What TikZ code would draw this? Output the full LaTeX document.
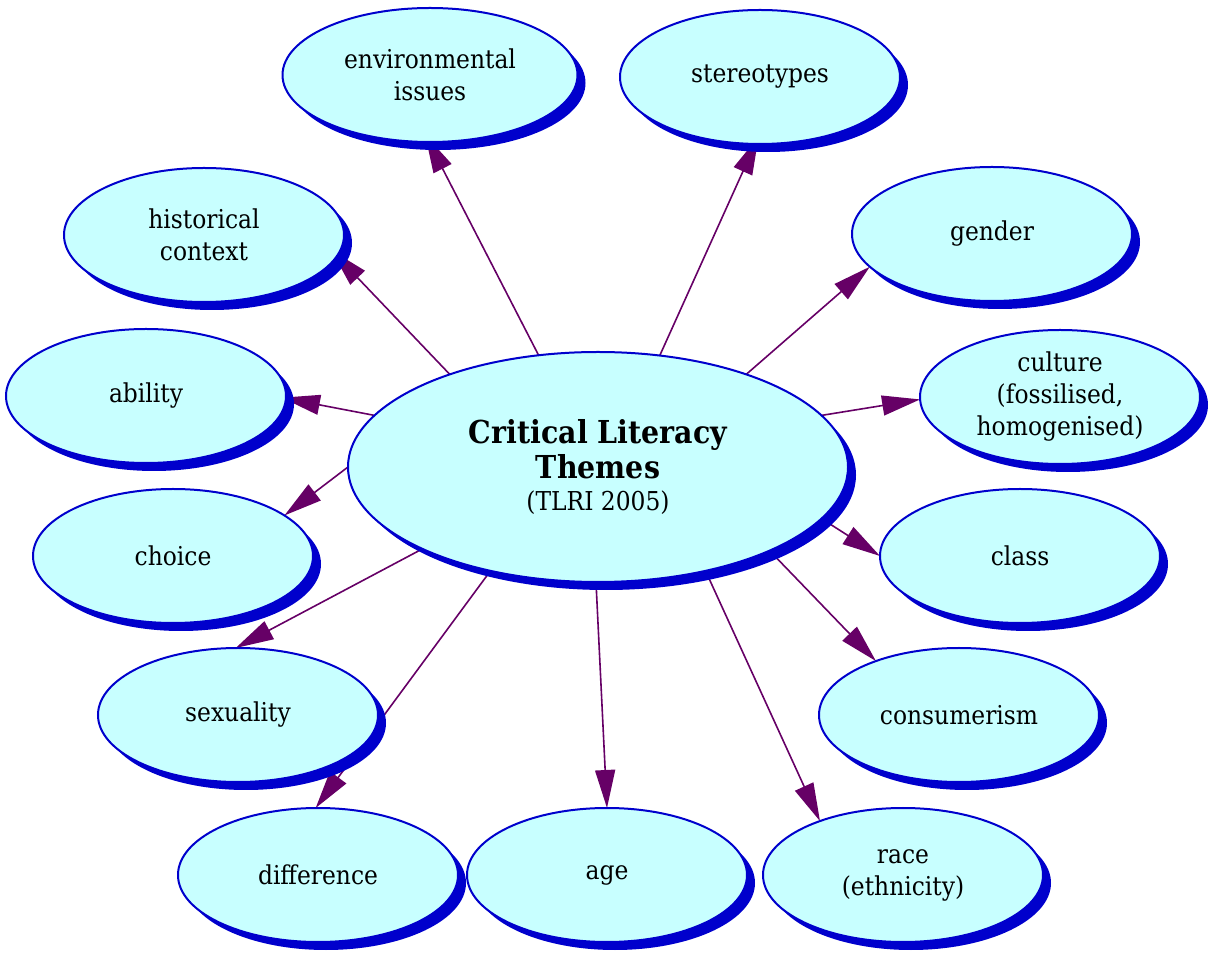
\documentclass[tikz,border=0pt]{standalone}
\usepackage{fontspec}
\setmainfont{DejaVu Serif Condensed}
\usetikzlibrary{arrows.meta,shapes.geometric,shadows,backgrounds}
\definecolor{themefill}{RGB}{200,255,255}
\definecolor{themeblue}{RGB}{0,0,204}
\definecolor{linkpurple}{RGB}{102,0,102}
\newcommand{\titlepart}[1]{{\fontsize{15.8pt}{17.5pt}\selectfont\bfseries #1}}

\begin{document}
\begin{tikzpicture}[x=0.5pt,y=-0.5pt,
	theme/.style={ellipse, draw=themeblue, line width=1pt, fill=themefill,
		minimum width=140pt, minimum height=67pt, inner sep=0pt, outer sep=0pt,
		align=center, font=\fontsize{13pt}{16pt}\selectfont,
		drop shadow={shadow xshift=4pt, shadow yshift=-4pt, fill=themeblue, opacity=1}},
	link/.style={draw=linkpurple, line width=0.8pt, -{Triangle[length=19pt,width=10pt]}},
	onshadow/.style={shorten >=-4pt}]
	
	\useasboundingbox (0,0) rectangle (1211,956);
	
	% Centre theme
	\node[theme, minimum width=250pt, minimum height=115pt] (main) at (598,467)
		{\titlepart{Critical Literacy}\\[1.5pt]\titlepart{Themes}\\(TLRI 2005)};
	
	% Themes round the centre
	\node[theme, minimum width=147.5pt] (env) at (430,75) {environmental\\issues};
	\node[theme] (stereo) at (760,77) {stereotypes};
	\node[theme] (hist) at (204,235) {historical\\context};
	\node[theme] (gender) at (992,234) {gender};
	\node[theme] (ability) at (146,396) {ability};
	\node[theme] (culture) at (1060,397) {culture\\(fossilised,\\homogenised)};
	\node[theme] (choice) at (173,556) {choice};
	\node[theme] (class) at (1020,556) {class};
	\node[theme] (sexuality) at (238,715) {sexuality};
	\node[theme] (consumer) at (959,715) {consumerism};
	\node[theme] (difference) at (318,875) {difference};
	\node[theme] (age) at (607,875) {age};
	\node[theme] (race) at (903,875) {race\\(ethnicity)};
	
	% Draw the links behind the ellipses
	\begin{scope}[on background layer]
		\draw[link,onshadow] (main.118) -- (env.-91);
		\draw[link,onshadow] (main.61) -- (stereo.-94);
		\draw[link,onshadow] (main.148) -- (hist.-9);
		\draw[link] (main.32) -- (gender.195);
		\draw[link,shorten >=-2pt] (main.167) -- (ability.-1);
		\draw[link] (main.13) -- (culture.181);
		\draw[link] (main.180) -- (choice.20);
		\draw[link] (main.-13) -- (class.180);
		\draw[link] (main.205) -- (sexuality.92);
		\draw[link] (main.-26) -- (consumer.147);
		\draw[link] (main.224) -- (difference.92);
		\draw[link] (main.-91) -- (age.90);
		\draw[link] (main.-44) -- (race.147);
	\end{scope}
	
\end{tikzpicture}
\end{document}
